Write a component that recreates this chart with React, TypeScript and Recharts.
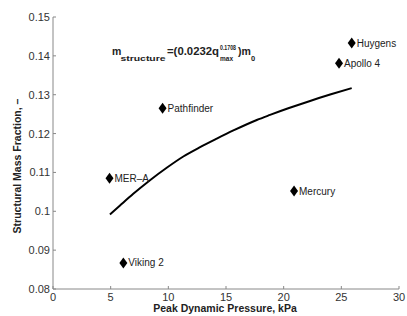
import { ComposedChart, Line, Scatter, XAxis, YAxis } from "recharts";

const missions = ["Huygens", "Apollo 4", "Pathfinder", "MER–A", "Mercury", "Viking 2"];
const missionQ = [25.9, 24.8, 9.5, 4.9, 20.9, 6.1];
const missionFrac = [0.1433, 0.1381, 0.1265, 0.1085, 0.1052, 0.0867];

// fit curve
const fitQ = [4.94, 5.81, 6.96, 8.41, 9.86, 11.3, 12.75, 14.2, 15.64, 17.67, 18.82, 20.4, 22.29, 24.1, 25.9];
const fitFrac = [0.0992, 0.1015, 0.1045, 0.108, 0.1112, 0.1141, 0.1165, 0.1187, 0.1208, 0.1235, 0.1248, 0.1265, 0.1284, 0.1301, 0.1317];

const xTicks = [0, 5, 10, 15, 20, 25, 30];
const yTicks = [0.08, 0.09, 0.1, 0.11, 0.12, 0.13, 0.14, 0.15];

const pointData = missions.map((name, i) => ({ name, q: missionQ[i], m: missionFrac[i] }));
const fitData = fitQ.map((q, i) => ({ q, m: fitFrac[i] }));

const FONT = "'Liberation Sans', Arial, sans-serif";

const Diamond = (props: any) => {
  const { cx, cy, payload } = props;
  return (
    <g>
      <polygon
        points={`${cx},${cy - 5.5} ${cx + 4},${cy} ${cx},${cy + 5.5} ${cx - 4},${cy}`}
        fill="#000"
      />
      <text x={cx + 5} y={cy + 3.5} fontSize={10} fontFamily={FONT} fill="#222">
        {payload.name}
      </text>
    </g>
  );
};

const XTick = (props: any) => {
  const { x, y, payload } = props;
  return (
    <g>
      <line x1={x} y1={y} x2={x} y2={y - 3} stroke="#888" />
      <text x={x} y={y + 12} textAnchor="middle" fontSize={11} fontFamily={FONT} fill="#333">
        {payload.value}
      </text>
    </g>
  );
};

const YTick = (props: any) => {
  const { x, y, payload } = props;
  return (
    <g>
      <line x1={x} y1={y} x2={x + 3} y2={y} stroke="#888" />
      <text x={x - 3} y={y + 4} textAnchor="end" fontSize={11} fontFamily={FONT} fill="#333">
        {payload.value}
      </text>
    </g>
  );
};

export default function App() {
  return (
    <div style={{ position: "absolute", left: 0, top: 0, width: 407, height: 316, background: "#fff" }}>
      <ComposedChart width={407} height={316} margin={{ top: 17, right: 8, bottom: 0, left: 0 }}>
        <XAxis
          type="number"
          dataKey="q"
          domain={[0, 30]}
          ticks={xTicks}
          height={27}
          tickSize={0}
          tickMargin={0}
          tickLine={false}
          tick={<XTick />}
          axisLine={{ stroke: "#888" }}
          allowDataOverflow
        />
        <YAxis
          type="number"
          dataKey="m"
          domain={[0.08, 0.15]}
          ticks={yTicks}
          width={53}
          tickSize={0}
          tickMargin={0}
          tickLine={false}
          tick={<YTick />}
          axisLine={{ stroke: "#888" }}
          allowDataOverflow
        />
        <Line
          data={fitData}
          dataKey="m"
          type="monotone"
          stroke="#000"
          strokeWidth={2}
          dot={false}
          activeDot={false}
          isAnimationActive={false}
        />
        <Scatter data={pointData} dataKey="m" shape={<Diamond />} isAnimationActive={false} />
      </ComposedChart>
      <svg
        width={407}
        height={316}
        style={{ position: "absolute", left: 0, top: 0, pointerEvents: "none" }}
        fontFamily={FONT}
        fontWeight="bold"
        fill="#222"
      >
        <text x={112} y={55} fontSize={10.5}>m</text>
        <text x={120.5} y={61} fontSize={7.5} textLength={45} lengthAdjust="spacingAndGlyphs">structure</text>
        <text x={167} y={55} fontSize={10.5} textLength={52} lengthAdjust="spacingAndGlyphs">=(0.0232q</text>
        <text x={220} y={49.5} fontSize={6.5} textLength={16} lengthAdjust="spacingAndGlyphs">0.1708</text>
        <text x={220} y={61} fontSize={7} textLength={13} lengthAdjust="spacingAndGlyphs">max</text>
        <text x={238} y={55} fontSize={10.5}>)m</text>
        <text x={251} y={61} fontSize={7.5}>0</text>
        <text x={225} y={312} fontSize={10.5} textAnchor="middle">
          Peak Dynamic Pressure, kPa
        </text>
        <text x={21} y={166} fontSize={10.5} textAnchor="middle" transform="rotate(-90 21 166)">
          Structural Mass Fraction, –
        </text>
      </svg>
    </div>
  );
}
